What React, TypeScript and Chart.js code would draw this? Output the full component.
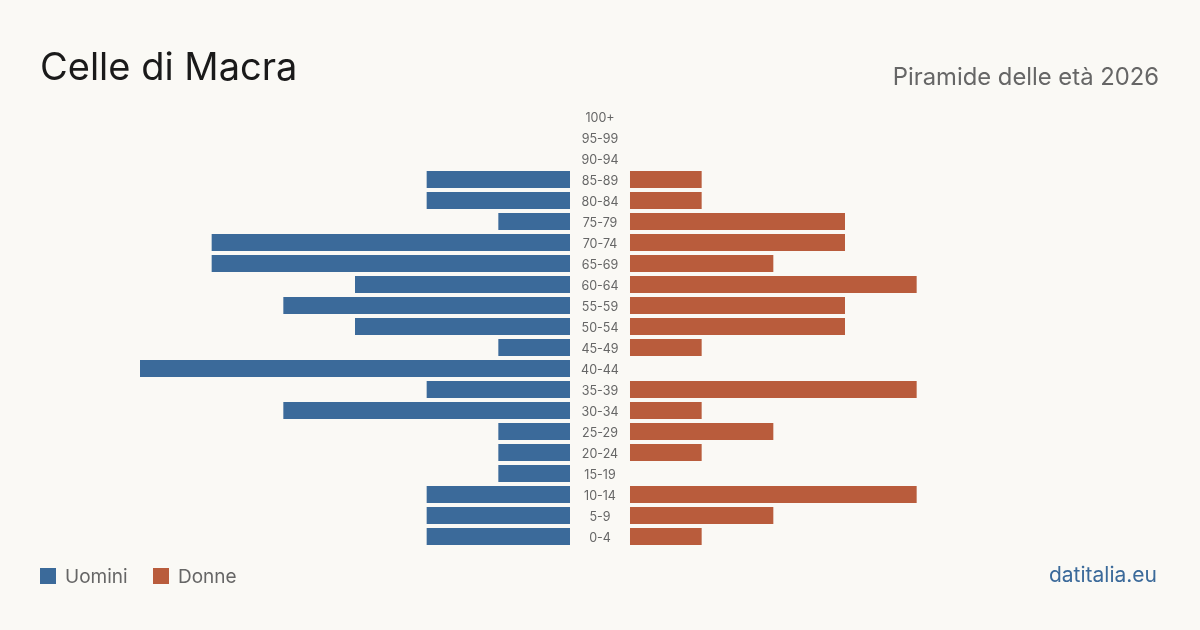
import React, { useEffect, useRef } from "react";
import { Chart, registerables } from "chart.js";

Chart.register(...registerables);

const ageGroups = [
  "100+", "95-99", "90-94", "85-89", "80-84", "75-79", "70-74", "65-69",
  "60-64", "55-59", "50-54", "45-49", "40-44", "35-39", "30-34", "25-29",
  "20-24", "15-19", "10-14", "5-9", "0-4",
];
const men = [0, 0, 0, 2, 2, 1, 5, 5, 3, 4, 3, 1, 6, 2, 4, 1, 1, 1, 2, 2, 2];
const women = [0, 0, 0, 1, 1, 3, 3, 2, 4, 3, 3, 1, 0, 4, 1, 2, 1, 0, 4, 2, 1];

const title = "Celle di Macra";
const subtitle = "Piramide delle età 2026";
const menLabel = "Uomini";
const womenLabel = "Donne";
const source = "datitalia.eu";

const BLUE = "#3b6a9a";
const ORANGE = "#b95c3c";
const BG = "#faf9f5";
const FONT = "Inter, 'Noto Sans', sans-serif";

const HALF_GAP = 0.4186;
const X_MAX = 7.814;

const centerLabels = {
  id: "centerLabels",
  afterDatasetsDraw(chart: any) {
    const { ctx, scales } = chart;
    const xs = scales.x;
    const ys = scales.y;
    const cx = xs.getPixelForValue(0);
    ctx.save();
    ctx.font = `12.5px ${FONT}`;
    ctx.fillStyle = "#666666";
    ctx.textAlign = "center";
    ctx.textBaseline = "middle";
    ageGroups.forEach((lab, i) => {
      ctx.fillText(lab, cx, ys.getPixelForValue(i) + 1.5);
    });
    ctx.restore();
  },
};

export default function App() {
  const ref = useRef<HTMLCanvasElement>(null);
  useEffect(() => {
    document.body.style.margin = "0";
    const chart = new Chart(ref.current!, {
      type: "bar",
      data: {
        labels: ageGroups,
        datasets: [
          {
            label: menLabel,
            data: men.map((v) => [-HALF_GAP - v, -HALF_GAP] as any),
            backgroundColor: BLUE,
            grouped: false,
            borderWidth: 0,
            categoryPercentage: 1,
            barPercentage: 0.81,
          } as any,
          {
            label: womenLabel,
            data: women.map((v) => [HALF_GAP, HALF_GAP + v] as any),
            backgroundColor: ORANGE,
            grouped: false,
            borderWidth: 0,
            categoryPercentage: 1,
            barPercentage: 0.81,
          } as any,
        ],
      },
      options: {
        indexAxis: "y",
        animation: false,
        responsive: false,
        maintainAspectRatio: false,
        layout: { padding: { left: 40, right: 40, top: 106, bottom: 83 } },
        scales: {
          x: { display: false, min: -X_MAX, max: X_MAX },
          y: { display: false },
        },
        plugins: {
          legend: { display: false },
          tooltip: { enabled: false },
        },
      },
      plugins: [centerLabels],
    });
    return () => chart.destroy();
  }, []);

  const legendItem = (color: string, text: string, left: number) => (
    <div style={{ position: "absolute", left, top: 568, height: 16, display: "flex", alignItems: "center" }}>
      <div style={{ width: 16, height: 16, background: color }} />
      <span style={{ marginLeft: 9, fontSize: 19, lineHeight: "19px", color: "#666666" }}>{text}</span>
    </div>
  );

  return (
    <div style={{ position: "relative", width: 1200, height: 630, background: BG, fontFamily: FONT, overflow: "hidden" }}>
      <canvas ref={ref} width={1200} height={630} style={{ position: "absolute", left: 0, top: 0, width: 1200, height: 630 }} />
      <div style={{ position: "absolute", left: 40, top: 47, fontSize: 38, lineHeight: "38px", color: "#1a1a1a", whiteSpace: "nowrap" }}>{title}</div>
      <div style={{ position: "absolute", right: 41, top: 64.5, fontSize: 23.8, lineHeight: "23.8px", color: "#666666", whiteSpace: "nowrap" }}>{subtitle}</div>
      {legendItem(BLUE, menLabel, 40)}
      {legendItem(ORANGE, womenLabel, 153)}
      <div style={{ position: "absolute", right: 43, top: 564, fontSize: 21, lineHeight: "21px", color: BLUE, whiteSpace: "nowrap" }}>{source}</div>
    </div>
  );
}
